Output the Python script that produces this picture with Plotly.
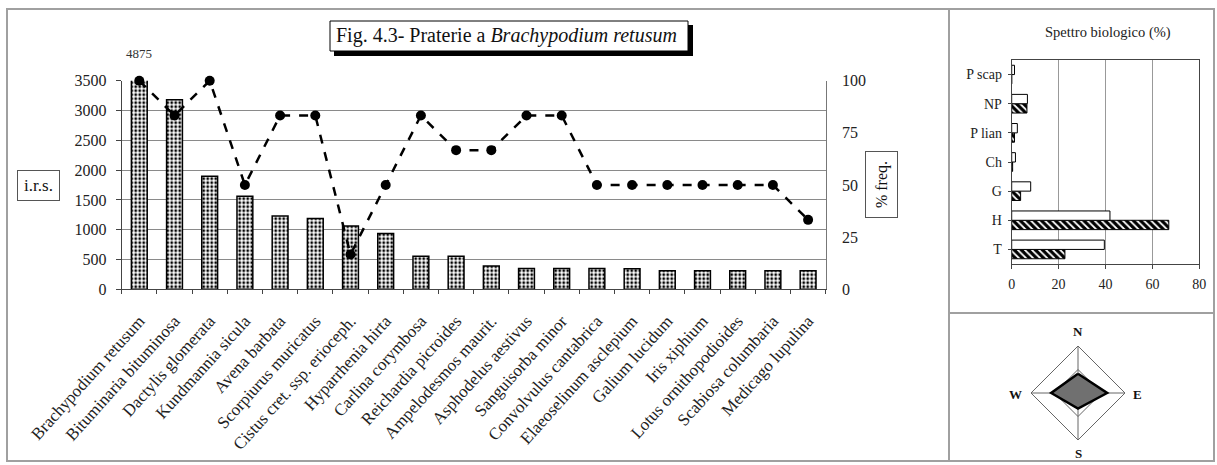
import plotly.graph_objects as go

# ---------------- data ----------------
species = ["Brachypodium retusum", "Bituminaria bituminosa", "Dactylis glomerata",
           "Kundmannia sicula", "Avena barbata", "Scorpiurus muricatus",
           "Cistus cret. ssp. erioceph.", "Hyparrhenia hirta", "Carlina corymbosa",
           "Reichardia picroides", "Ampelodesmos maurit.", "Asphodelus aestivus",
           "Sanguisorba minor", "Convolvulus cantabrica", "Elaeoselinum asclepium",
           "Galium lucidum", "Iris xiphium", "Lotus ornithopodioides",
           "Scabiosa columbaria", "Medicago lupulina"]
irs = [4875, 3180, 1895, 1560, 1230, 1190, 1060, 935, 555, 555,
       390, 350, 350, 350, 345, 310, 310, 310, 310, 310]
freq = [100, 83.3, 100, 50, 83.3, 83.3, 16.7, 50, 83.3, 66.7,
        66.7, 83.3, 83.3, 50, 50, 50, 50, 50, 50, 33.3]
irs_ticks = [0, 500, 1000, 1500, 2000, 2500, 3000, 3500]
freq_ticks = [0, 25, 50, 75, 100]

forms = ["T", "H", "G", "Ch", "P lian", "NP", "P scap"]
spectrum_white = [39.5, 41.9, 8.1, 1.6, 2.4, 6.7, 1.2]
spectrum_hatched = [22.7, 67.0, 3.8, 0.4, 1.2, 6.5, 0.0]
spectrum_ticks = [0, 20, 40, 60, 80]

directions = ["N", "E", "S", "W"]
exposure = [0.41, 0.62, 0.33, 0.57]

# ---------------- helpers (pixel -> paper) ----------------
W, H = 1217, 465
def px(x):
    return x / W
def py(y):
    return 1 - y / H

SERIF = "Liberation Serif, Times New Roman, serif"

fig = go.Figure()

# main bars
fig.add_trace(go.Bar(
    x=species, y=irs, width=0.45, xaxis="x", yaxis="y",
    marker=dict(color="white", line=dict(color="black", width=1.5),
                pattern=dict(shape=".", fgcolor="black", bgcolor="white",
                             size=4, solidity=0.4)),
    showlegend=False))

# frequency line
fig.add_trace(go.Scatter(
    x=species, y=freq, xaxis="x", yaxis="y2", mode="lines+markers",
    line=dict(color="black", width=2.5, dash="dash"),
    marker=dict(color="black", size=10), cliponaxis=False, showlegend=False))

# biological spectrum
fig.add_trace(go.Bar(
    y=forms, x=spectrum_hatched, orientation="h", xaxis="x3", yaxis="y3",
    marker=dict(color="black", line=dict(color="black", width=1),
                pattern=dict(shape="\\", fgcolor="white", bgcolor="black",
                             size=5, solidity=0.35)),
    showlegend=False))
fig.add_trace(go.Bar(
    y=forms, x=spectrum_white, orientation="h", xaxis="x3", yaxis="y3",
    marker=dict(color="white", line=dict(color="black", width=1)),
    showlegend=False))

# exposure rose
fig.add_trace(go.Scatterpolar(
    r=exposure + exposure[:1], theta=directions + directions[:1],
    mode="lines", fill="toself", fillcolor="#707070",
    line=dict(color="black", width=2.5), showlegend=False, subplot="polar"))

axis_font = dict(family=SERIF, size=16, color="#222")

fig.update_layout(
    template="none",
    width=W, height=H, autosize=False,
    margin=dict(l=0, r=0, t=0, b=0, pad=0),
    paper_bgcolor="white", plot_bgcolor="white",
    barmode="group", bargap=0.36, bargroupgap=0,
    font=dict(family=SERIF, color="#222"),
    xaxis=dict(domain=[px(121.7), px(825.7)], anchor="y", type="category",
               range=[-0.5, len(species) - 0.5], automargin=False,
               tickangle=-48, tickfont=dict(family=SERIF, size=17, color="#222"),
               showline=True, linecolor="#444", linewidth=1.2,
               ticks="outside", ticklen=4, tickcolor="#444", tickson="boundaries",
               showgrid=False, zeroline=False, ticklabelstandoff=14),
    yaxis=dict(domain=[py(289.3), py(80.7)], anchor="x", range=[0, 3500],
               automargin=False,
               tickvals=irs_ticks, tickfont=axis_font,
               showline=True, linecolor="#444", linewidth=1.2,
               ticks="outside", ticklen=5, tickcolor="#444",
               showgrid=True, gridcolor="#8a8a8a", gridwidth=1,
               zeroline=False, ticklabelstandoff=6),
    yaxis2=dict(overlaying="y", side="right", anchor="x", range=[0, 100],
                automargin=False,
                tickvals=freq_ticks, tickfont=axis_font,
                showline=True, linecolor="#777", linewidth=1,
                ticks="", showgrid=False, zeroline=False, ticklabelstandoff=12),
    xaxis3=dict(domain=[px(1011.7), px(1199.3)], anchor="y3", range=[0, 80],
                automargin=False,
                tickvals=spectrum_ticks, tickfont=dict(family=SERIF, size=14, color="#222"),
                showline=True, linecolor="#444", mirror=True, linewidth=1,
                ticks="outside", ticklen=4, tickcolor="#444",
                showgrid=True, gridcolor="#999", zeroline=False, ticklabelstandoff=3),
    yaxis3=dict(domain=[py(264), py(60)], anchor="x3", type="category",
                automargin=False,
                categoryorder="array", categoryarray=forms,
                tickfont=dict(family=SERIF, size=14, color="#222"),
                showline=True, linecolor="#444", mirror=True, linewidth=1,
                ticks="outside", ticklen=3, tickcolor="#444", showgrid=False,
                zeroline=False, ticklabelstandoff=3),
    polar=dict(
        domain=dict(x=[px(1031), px(1125)], y=[py(440), py(346)]),
        gridshape="linear", bgcolor="white",
        angularaxis=dict(type="category", categoryarray=directions,
                         rotation=90, direction="clockwise",
                         showline=True, linecolor="#666", linewidth=1,
                         showgrid=True, gridcolor="#666", ticks="",
                         showticklabels=False),
        radialaxis=dict(range=[0, 1], tickvals=[0.5], showticklabels=False,
                        showline=False, ticks="", showgrid=True, gridcolor="#666", angle=90),
    ),
)

# frames
frame = dict(type="line", xref="paper", yref="paper", line=dict(color="#a0a0a0", width=2))
shapes = [
    dict(type="rect", xref="paper", yref="paper", x0=px(7), y0=py(461), x1=px(1214), y1=py(9),
         line=dict(color="#a0a0a0", width=2)),
    dict(frame, x0=px(949), x1=px(949), y0=py(461), y1=py(9)),
    dict(frame, x0=px(949), x1=px(1214), y0=py(313), y1=py(313)),
    # title box shadow and box
    dict(type="rect", xref="paper", yref="paper", x0=px(334), x1=px(693), y0=py(56), y1=py(25),
         fillcolor="black", line=dict(width=0)),
    dict(type="rect", xref="paper", yref="paper", x0=px(330), x1=px(688), y0=py(51), y1=py(21),
         fillcolor="white", line=dict(color="black", width=1)),
]
fig.update_layout(shapes=shapes)

common = dict(xref="paper", yref="paper", showarrow=False, xanchor="center", yanchor="middle")
compass_font = dict(family=SERIF, size=13, color="#111", weight="bold")
compass_pos = {"N": (1078, 331), "E": (1137, 394), "S": (1078, 453), "W": (1015, 394)}
ann = [
    dict(common, text="Fig. 4.3- Praterie a <i>Brachypodium retusum</i>", x=px(506), y=py(36),
         font=dict(family=SERIF, size=20, color="#111")),
    dict(common, text=str(irs[0]), x=species[0], y=py(53), xref="x",
         font=dict(family=SERIF, size=13, color="#333")),
    dict(common, text="i.r.s.", x=px(38.5), y=py(185.5),
         font=dict(family=SERIF, size=17, color="#111"), bordercolor="#555", borderwidth=1,
         borderpad=2, width=37, height=25, bgcolor="white"),
    dict(common, text="% freq.", x=px(881.5), y=py(184.5),
         textangle=-90, font=dict(family=SERIF, size=16, color="#111"), bordercolor="#555",
         borderwidth=1, borderpad=2, width=61, height=27, bgcolor="white"),
    dict(common, text="Spettro biologico (%)", x=px(1108), y=py(33),
         font=dict(family=SERIF, size=14.5, color="#222")),
]
for d in directions:
    cx, cy = compass_pos[d]
    ann.append(dict(common, text=d, x=px(cx), y=py(cy), font=compass_font))
fig.update_layout(annotations=ann)

fig.write_html("out.html", config={"displayModeBar": False},
               post_script="document.body.style.margin='0';")
